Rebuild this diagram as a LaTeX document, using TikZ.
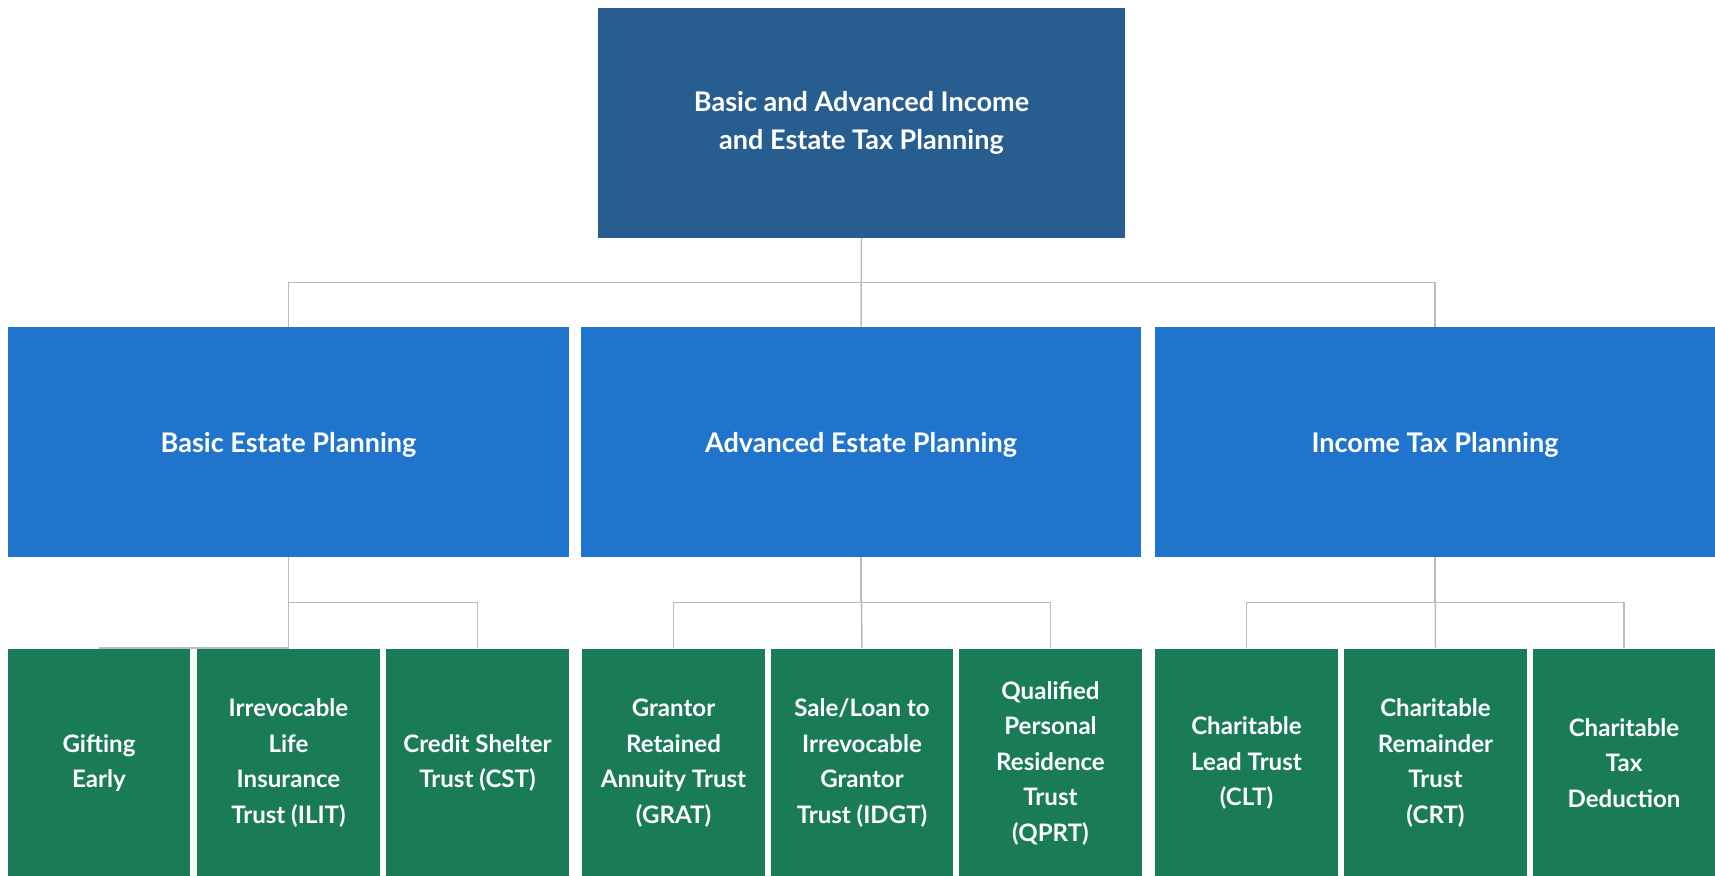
\documentclass[tikz,border=0pt]{standalone}
\usepackage{fontspec}
\setmainfont{Lato}
\usepackage{tikz}

\definecolor{topblue}{HTML}{275D8F}
\definecolor{midblue}{HTML}{2174CC}
\definecolor{leafgreen}{HTML}{1A7C57}
\definecolor{linkgray}{HTML}{B6BCC6}

\begin{document}
\begin{tikzpicture}
          [x=0.02cm,y=-0.02cm,
          top/.style={shape=rectangle,fill=topblue,text=white,minimum width=10.54cm,minimum height=4.6cm,
            align=center,font=\bfseries\fontsize{15.4}{22}\selectfont},
          mid/.style={shape=rectangle,fill=midblue,text=white,minimum width=11.22cm,minimum height=4.6cm,
            align=center,font=\bfseries\fontsize{15.4}{22}\selectfont,
            execute at begin node={\rule{0pt}{15pt}}},
          leaf/.style={shape=rectangle,fill=leafgreen,text=white,minimum width=3.65cm,minimum height=4.58cm,
            align=center,font=\bfseries\fontsize{13.7}{20.2}\selectfont},
          link/.style={draw=linkgray,line width=0.85pt}]

            \useasboundingbox (0,0) rectangle (1715,876);

            \node (root) [top] at (861.5,123) {Basic and Advanced Income\\and Estate Tax Planning};

            \node (basic) [mid] at (288.5,442) {Basic Estate Planning};
            \node (adv) [mid] at (861,442) {Advanced Estate Planning};
            \node (inc) [mid] at (1435,442) {Income Tax Planning};

            \node (gift) [leaf] at (99,763) {Gifting\\Early};
            \node (ilit) [leaf] at (288.5,763) {Irrevocable\\Life\\Insurance\\Trust (ILIT)};
            \node (cst) [leaf] at (477.5,763) {Credit Shelter\\Trust (CST)};
            \node (grat) [leaf] at (673.5,763) {Grantor\\Retained\\Annuity Trust\\(GRAT)};
            \node (idgt) [leaf] at (862,763) {Sale/Loan to\\Irrevocable\\Grantor\\Trust (IDGT)};
            \node (qprt) [leaf] at (1050.5,763) {Qualified\\Personal\\Residence\\Trust\\(QPRT)};
            \node (clt) [leaf] at (1246.5,763) {Charitable\\Lead Trust\\(CLT)};
            \node (crt) [leaf] at (1435.5,763) {Charitable\\Remainder\\Trust\\(CRT)};
            \node (ctd) [leaf] at (1624,763) {Charitable\\Tax\\Deduction};

          % top level
          \draw [link] (root.south) -- (adv.north);
          \draw [link] (root.south) -- ++(0,44) -| (basic.north);
          \draw [link] (root.south) -- ++(0,44) -| (inc.north);

          % basic
          \draw [link] (basic.south) -- (ilit.north);
          \draw [link] (ilit.north) -- (gift.north);
          \draw [link] (basic.south) -- ++(0,45) -| (cst.north);

          % advanced
          \draw [link] (adv.south) -- (idgt.north);
          \draw [link] (adv.south) -- ++(0,45) -| (grat.north);
          \draw [link] (adv.south) -- ++(0,45) -| (qprt.north);

          % income
          \draw [link] (inc.south) -- (crt.north);
          \draw [link] (inc.south) -- ++(0,45) -| (clt.north);
          \draw [link] (inc.south) -- ++(0,45) -| (ctd.north);

        \end{tikzpicture}
\end{document}
